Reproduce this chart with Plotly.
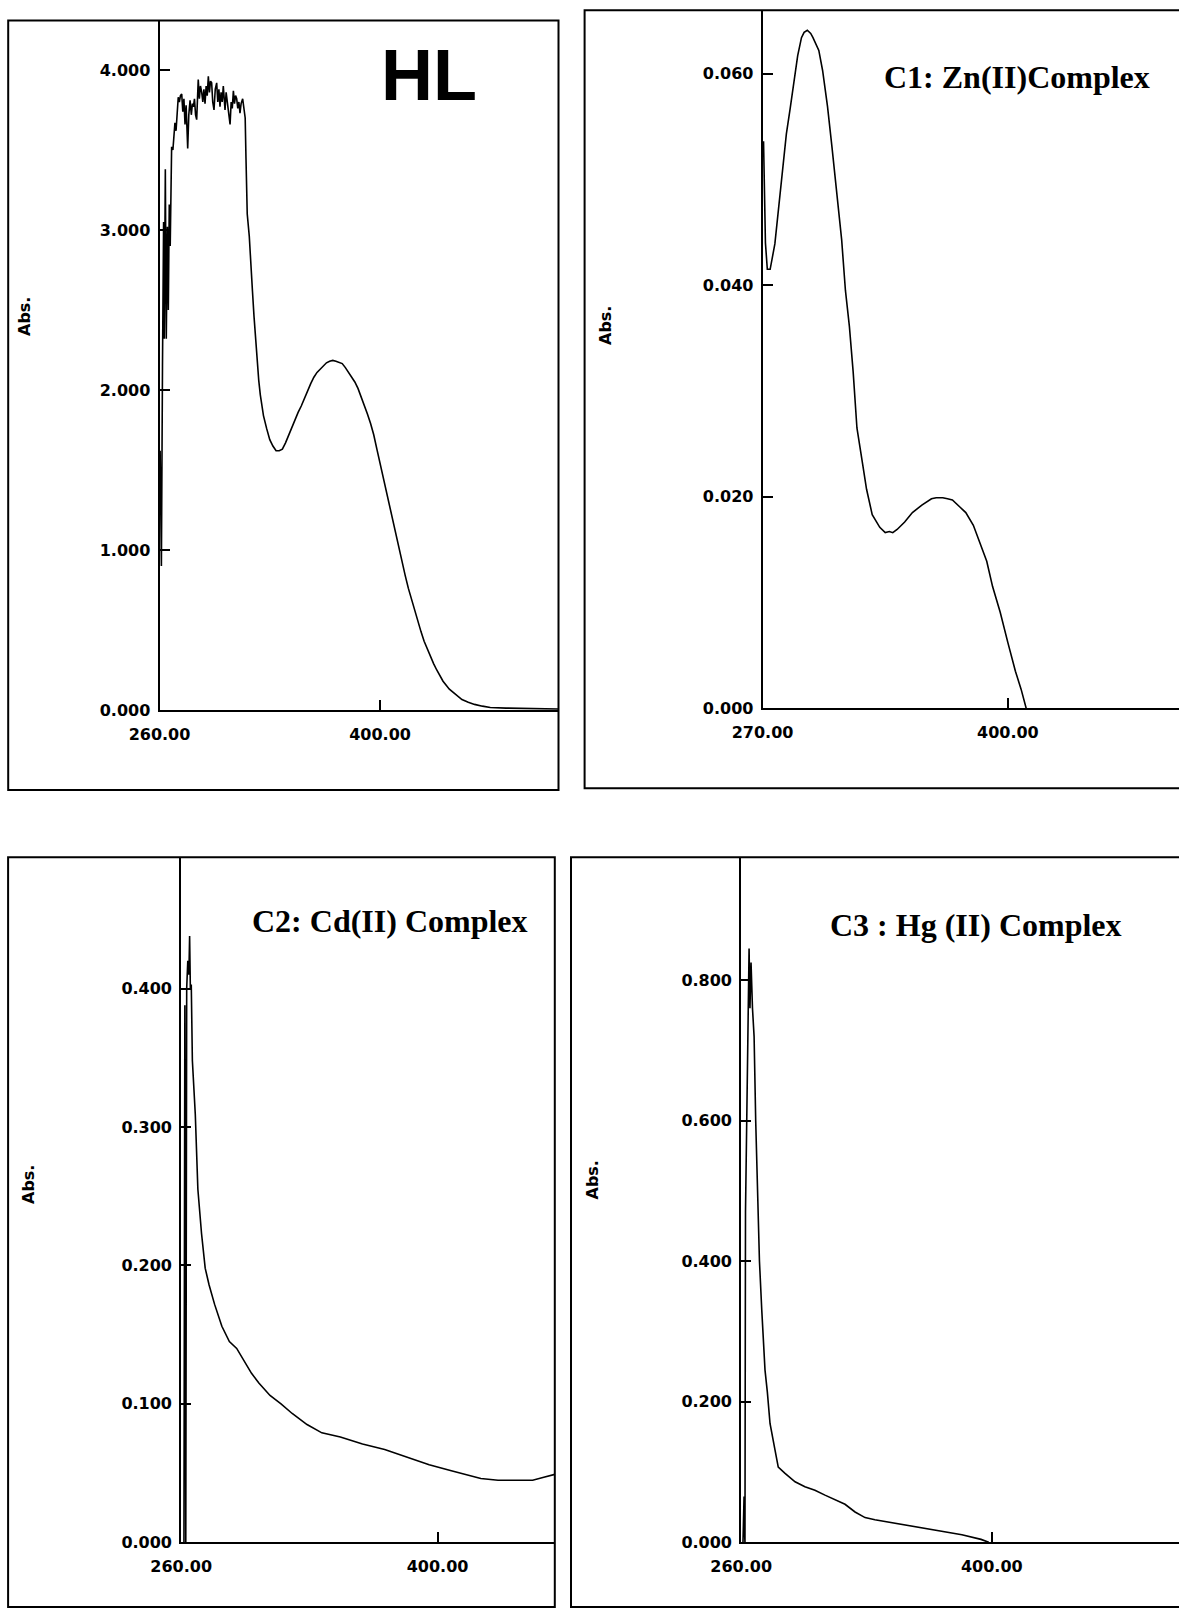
import plotly.graph_objects as go

# ---------------- data ----------------
hl_wavelength = [260.4, 260.7, 261.2, 261.9, 262.6, 263.0, 263.7, 264.3, 265.0, 265.6,
                 266.2, 266.8, 267.4, 267.7, 268.5, 269.2, 269.8, 270.5, 271.2, 271.9,
                 272.6, 273.3, 274.1, 274.8, 275.5, 276.2, 276.9, 277.9, 278.6, 279.4,
                 280.2, 280.9, 281.5, 282.2, 282.9, 283.6, 284.6, 285.3, 286.0, 286.8,
                 287.5, 288.2, 288.9, 289.6, 290.3, 291.0, 291.7, 292.4, 293.1, 293.8,
                 294.6, 295.4, 296.3, 297.0, 297.7, 298.4, 299.1, 299.8, 300.5, 301.1,
                 301.6, 302.3, 303.0, 303.8, 304.8, 305.5, 306.2, 306.9, 307.6, 308.3,
                 309.0, 309.7, 310.4, 311.1, 311.8, 312.8, 313.7, 314.4, 314.9, 315.7,
                 317.0, 318, 319, 320, 321, 322, 323, 324, 325, 326, 328,
                 330, 332, 334, 336, 338, 340, 342, 344, 346, 348, 350, 352, 354, 356,
                 358, 360, 362, 364, 366, 368, 370, 372, 374, 376, 378, 380, 382, 384,
                 386, 388, 390, 392, 394, 396, 398, 400, 402, 404, 406, 408, 410, 412,
                 414, 416, 418, 420, 422, 424, 426, 428, 430, 432, 434, 436, 438, 440,
                 444, 448, 452, 456, 460, 465, 470, 480, 490, 500, 513]
hl_absorbance = [1.62, 1.18, 0.90, 2.15, 3.05, 2.32, 3.38, 2.32, 3.02, 2.50,
                 3.16, 2.90, 3.45, 3.52, 3.50, 3.64, 3.67, 3.62, 3.75, 3.83,
                 3.80, 3.84, 3.85, 3.74, 3.82, 3.66, 3.78, 3.51, 3.72, 3.81,
                 3.72, 3.79, 3.77, 3.82, 3.72, 3.69, 3.94, 3.82, 3.90, 3.86,
                 3.80, 3.88, 3.79, 3.90, 3.84, 3.96, 3.86, 3.93, 3.92, 3.80,
                 3.75, 3.88, 3.92, 3.80, 3.88, 3.77, 3.86, 3.80, 3.90, 3.78,
                 3.75, 3.86, 3.81, 3.72, 3.66, 3.80, 3.76, 3.87, 3.79, 3.84,
                 3.82, 3.76, 3.80, 3.73, 3.79, 3.82, 3.73, 3.70, 3.45, 3.10,
                 2.96, 2.82, 2.62, 2.46, 2.32, 2.20, 2.06, 1.97, 1.90, 1.84, 1.76,
                 1.69, 1.65, 1.62, 1.62, 1.63, 1.67, 1.72, 1.77, 1.81, 1.86, 1.90, 1.95, 1.99, 2.04,
                 2.08, 2.11, 2.13, 2.15, 2.17, 2.18, 2.185, 2.18, 2.17, 2.165, 2.14, 2.11, 2.08, 2.05,
                 2.01, 1.96, 1.91, 1.85, 1.79, 1.72, 1.63, 1.54, 1.46, 1.38, 1.28, 1.18, 1.09, 1.00,
                 0.92, 0.84, 0.76, 0.69, 0.62, 0.56, 0.49, 0.43, 0.38, 0.33, 0.29, 0.25, 0.21, 0.18,
                 0.13, 0.095, 0.065, 0.048, 0.035, 0.024, 0.016, 0.012, 0.010, 0.008, 0.006]

c1_wavelength = [270.5, 271.0, 271.5, 272.5, 274.0, 276.5, 278.5, 280.5, 282.6, 284.6,
                 286.6, 288.6, 290.6, 292.0, 293.7, 295.5, 296.7, 299.8, 301.8, 304.4,
                 306.8, 309.3, 311.9, 313.9, 316.0, 318.0, 320.0, 323.0, 325.1, 328.1,
                 332.1, 335.0, 337.2, 339.0, 341.3, 345.3, 349.4, 354.4, 359.5, 362.0,
                 365.5, 368.0, 370.6, 374.7, 377.7, 381.7, 385.8, 388.8, 391.9, 395.9,
                 400.0, 404.0, 407.0, 409.7]
c1_absorbance = [0.0536, 0.0470, 0.0440, 0.0415, 0.0415, 0.0439, 0.0475, 0.0511, 0.0543, 0.0567,
                 0.0593, 0.0617, 0.0634, 0.0639, 0.0641, 0.0638, 0.0634, 0.0622, 0.0603, 0.0569,
                 0.0530, 0.0487, 0.0443, 0.0395, 0.0361, 0.0318, 0.0265, 0.0231, 0.0207, 0.0183,
                 0.0171, 0.0166, 0.0167, 0.0166, 0.0169, 0.0176, 0.0185, 0.0192, 0.0198, 0.0199,
                 0.0199, 0.0198, 0.0197, 0.0190, 0.0185, 0.0173, 0.0154, 0.0139, 0.0115, 0.0091,
                 0.0062, 0.0035, 0.0018, 0.0000]

c2_wavelength = [261.5, 262.0, 262.5, 263.0, 263.6, 264.2, 264.6, 265.0, 265.5, 266.1,
                 267.7, 269.1, 271.1, 273.1, 275.2, 278.2, 282.2, 286.3, 290.3, 294.3,
                 298.4, 302.4, 308.5, 314.5, 320.6, 328.7, 336.8, 346.9, 359.0, 371.1,
                 383.2, 395.4, 407.5, 423.6, 433.0, 443.8, 451.9, 458.0, 464.0]
c2_absorbance = [0.000, 0.388, 0.000, 0.400, 0.420, 0.410, 0.438, 0.400, 0.403, 0.348,
                 0.309, 0.255, 0.223, 0.198, 0.186, 0.172, 0.156, 0.145, 0.140, 0.131,
                 0.122, 0.115, 0.106, 0.100, 0.093, 0.085, 0.079, 0.076, 0.071, 0.067,
                 0.0615, 0.056, 0.0516, 0.046, 0.0448, 0.0448, 0.0448, 0.047, 0.049]

c3_wavelength = [261.0, 261.6, 261.8, 262.1, 262.4, 263.8, 264.4, 264.9, 265.5, 266.3,
                 267.2, 268.1, 269.1, 270.2, 271.5, 273.3, 274.6, 276.1, 278.9, 280.7,
                 284.5, 290.1, 295.6, 301.2, 306.8, 312.4, 318.0, 323.6, 329.2, 334.7,
                 345.9, 357.1, 368.3, 383.3, 394.0, 398.3]
c3_absorbance = [0.000, 0.065, 0.020, 0.000, 0.470, 0.710, 0.845, 0.760, 0.825, 0.760,
                 0.720, 0.600, 0.490, 0.400, 0.330, 0.245, 0.214, 0.169, 0.131, 0.107,
                 0.098, 0.086, 0.079, 0.074, 0.067, 0.060, 0.054, 0.043, 0.035, 0.032,
                 0.027, 0.022, 0.017, 0.0105, 0.004, 0.000]

hl_yticks = [0, 1, 2, 3, 4]
c1_yticks = [0.0, 0.02, 0.04, 0.06]
c2_yticks = [0.0, 0.1, 0.2, 0.3, 0.4]
c3_yticks = [0.0, 0.2, 0.4, 0.6, 0.8]
hl_xticks = [260, 400]
c1_xticks = [270, 400]
c2_xticks = [260, 400]
c3_xticks = [260, 400]

panel_titles = ["HL", "C1: Zn(II)Complex", "C2: Cd(II) Complex", "C3 : Hg (II) Complex"]
axis_title = "Abs."

# ---------------- layout helpers (pixel -> paper) ----------------
W, H = 1179, 1611
def px(x):
    return x / W
def py(y):
    return 1 - y / H

fig = go.Figure()

series = [
    (hl_wavelength, hl_absorbance, "x", "y"),
    (c1_wavelength, c1_absorbance, "x2", "y2"),
    (c2_wavelength, c2_absorbance, "x3", "y3"),
    (c3_wavelength, c3_absorbance, "x4", "y4"),
]
for xs, ys, xa, ya in series:
    fig.add_trace(go.Scatter(x=xs, y=ys, xaxis=xa, yaxis=ya, mode="lines",
                             line=dict(color="black", width=1.6), showlegend=False,
                             hoverinfo="skip"))

tickfont = dict(family="DejaVu Sans", size=16, color="black", weight="bold")
common = dict(showline=True, linecolor="black", linewidth=2, ticks="inside",
              ticklen=10, tickwidth=1.5, tickcolor="black", showgrid=False,
              zeroline=False, tickfont=tickfont, mirror=False, fixedrange=True,
              automargin=False)

panels = [
    dict(x0=159.5, x1=558.5, y0=710.0, y1=20.4, xr=[260, 513.3], yr=[0, 4.31],
         xt=hl_xticks, yt=hl_yticks),
    dict(x0=762.6, x1=1179.0, y0=708.2, y1=10.2, xr=[270, 490.7], yr=[0, 0.066],
         xt=c1_xticks, yt=c1_yticks),
    dict(x0=181.2, x1=554.8, y0=1542.2, y1=857.2, xr=[260, 464.0], yr=[0, 0.4949],
         xt=c2_xticks, yt=c2_yticks),
    dict(x0=741.2, x1=1179.0, y0=1542.2, y1=857.2, xr=[260, 504.6], yr=[0, 0.975],
         xt=c3_xticks, yt=c3_yticks),
]
for i, p in enumerate(panels):
    sx = "" if i == 0 else str(i + 1)
    fig.update_layout(**{
        "xaxis" + sx: dict(common, domain=[px(p["x0"]), min(1.0, px(p["x1"]))],
                           range=p["xr"], tickvals=p["xt"], tickformat=".2f",
                           anchor="y" + sx, ticklabelstandoff=9),
        "yaxis" + sx: dict(common, domain=[py(p["y0"]), py(p["y1"])],
                           range=p["yr"], tickvals=p["yt"], tickformat=".3f",
                           anchor="x" + sx, ticklabelstandoff=4),
    })

borders = [(8.2, 20.4, 558.5, 790.0), (584.6, 10.2, 1190, 788.3),
           (8.1, 857.2, 554.8, 1607.0), (571.0, 857.2, 1190, 1607.0)]
shapes = []
for x0, y0, x1, y1 in borders:
    shapes.append(dict(type="rect", xref="paper", yref="paper",
                       x0=px(x0), x1=px(x1), y0=py(y1), y1=py(y0),
                       line=dict(color="black", width=2), fillcolor="rgba(0,0,0,0)"))

annotations = []
for (x, y) in [(25, 317), (605, 326), (28, 1185), (591.5, 1180)]:
    annotations.append(dict(text=axis_title, xref="paper", yref="paper", x=px(x), y=py(y),
                            xanchor="center", yanchor="middle", showarrow=False, textangle=-90,
                            font=dict(family="DejaVu Sans", size=16, color="black", weight="bold")))
annotations.append(dict(text=panel_titles[0], xref="paper", yref="paper", x=px(429), y=py(75),
                        xanchor="center", yanchor="middle", showarrow=False,
                        font=dict(family="Liberation Sans", size=72, color="black", weight="bold")))
for t, (x, y) in zip(panel_titles[1:], [(1016.5, 77), (390, 921), (976, 925)]):
    annotations.append(dict(text=t, xref="paper", yref="paper", x=px(x), y=py(y),
                            xanchor="center", yanchor="middle", showarrow=False,
                            font=dict(family="Liberation Serif", size=32, color="black", weight="bold")))

fig.update_layout(width=W, height=H, margin=dict(l=0, r=0, t=0, b=0, pad=0, autoexpand=False),
                  paper_bgcolor="white", plot_bgcolor="white",
                  shapes=shapes, annotations=annotations, showlegend=False)

fig.write_html("out.html", config={"displayModeBar": False},
               post_script="document.body.style.margin='0';document.body.style.padding='0';")
